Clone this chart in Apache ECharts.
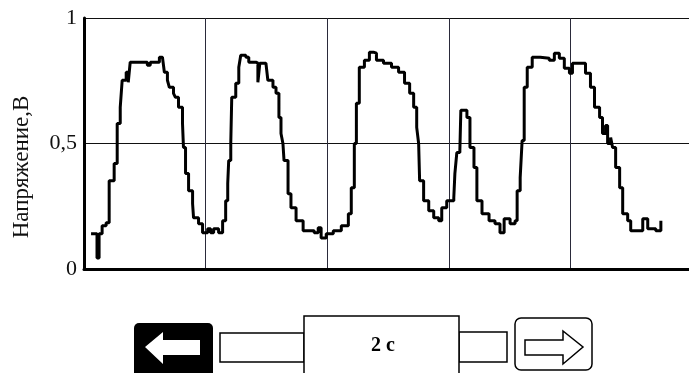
<!DOCTYPE html>
<html>
<head>
<meta charset="utf-8">
<script src="https://cdn.jsdelivr.net/npm/echarts@6/dist/echarts.min.js"></script>
<style>
html, body { margin: 0; padding: 0; background: #fff; }
#chart { width: 689px; height: 373px; }
</style>
</head>
<body>
<div id="chart"></div>
<script>
// время в делениях сетки (0..5), напряжение в вольтах
var time = [0.058,0.107,0.107,0.124,0.149,0.182,0.207,0.207,0.248,0.248,0.273,0.273,0.298,0.298,0.314,0.314,0.347,0.364,0.380,0.413,0.504,0.521,0.545,0.603,0.620,0.645,0.661,0.686,0.702,0.736,0.752,0.777,0.810,0.818,0.835,0.860,0.893,0.901,0.942,0.975,1.017,1.041,1.066,1.107,1.140,1.165,1.182,1.190,1.207,1.215,1.248,1.273,1.289,1.331,1.355,1.413,1.430,1.446,1.496,1.512,1.554,1.579,1.603,1.620,1.636,1.645,1.678,1.702,1.744,1.802,1.893,1.926,1.950,1.992,2.050,2.116,2.174,2.198,2.223,2.240,2.264,2.306,2.347,2.380,2.405,2.463,2.529,2.587,2.636,2.678,2.711,2.736,2.752,2.760,2.793,2.835,2.876,2.917,2.942,2.983,3.041,3.050,3.066,3.091,3.099,3.132,3.149,3.174,3.207,3.231,3.273,3.331,3.380,3.421,3.455,3.504,3.545,3.562,3.587,3.603,3.620,3.645,3.686,3.752,3.826,3.868,3.909,3.950,3.992,4.017,4.083,4.124,4.165,4.198,4.240,4.264,4.289,4.306,4.331,4.347,4.372,4.405,4.430,4.471,4.496,4.537,4.595,4.636,4.702,4.744];
var volt = [0.140,0.132,0.044,0.140,0.172,0.184,0.192,0.352,0.352,0.420,0.420,0.580,0.584,0.644,0.644,0.752,0.784,0.744,0.824,0.824,0.824,0.812,0.824,0.824,0.844,0.844,0.784,0.752,0.724,0.700,0.684,0.644,0.580,0.484,0.380,0.312,0.260,0.204,0.180,0.144,0.160,0.144,0.160,0.144,0.192,0.272,0.340,0.432,0.500,0.684,0.740,0.804,0.852,0.844,0.824,0.820,0.744,0.820,0.820,0.752,0.724,0.700,0.604,0.540,0.500,0.432,0.300,0.244,0.192,0.152,0.144,0.164,0.124,0.140,0.152,0.172,0.220,0.324,0.500,0.660,0.804,0.832,0.864,0.860,0.832,0.820,0.804,0.784,0.740,0.700,0.644,0.564,0.500,0.352,0.272,0.232,0.204,0.192,0.244,0.272,0.284,0.380,0.464,0.472,0.632,0.632,0.604,0.484,0.404,0.272,0.220,0.192,0.180,0.144,0.200,0.180,0.192,0.312,0.364,0.512,0.724,0.804,0.844,0.840,0.832,0.860,0.840,0.800,0.780,0.820,0.820,0.780,0.724,0.644,0.604,0.540,0.572,0.500,0.524,0.484,0.404,0.324,0.220,0.192,0.152,0.152,0.200,0.160,0.152,0.192];
var yTicks = [0, 0.5, 1];
var yName = 'Напряжение,В';
var sliderText = '2 c';

var points = [];
for (var i = 0; i < time.length; i++) {
    points.push([time[i], volt[i]]);
}

var myChart = echarts.init(document.getElementById('chart'));

var serif = '"Liberation Serif", "DejaVu Serif", serif';

option = {
    animation: false,
    backgroundColor: '#fff',
    grid: {
        left: 84,
        top: 18,
        right: -3,
        bottom: 104,
        containLabel: false,
        outerBoundsMode: 'none'
    },
    xAxis: {
        type: 'value',
        min: 0,
        max: 5,
        interval: 1,
        axisLine: { show: true, lineStyle: { color: '#000', width: 3 } },
        axisTick: { show: false },
        axisLabel: { show: false },
        splitLine: { show: true, lineStyle: { color: '#2a2a3a', width: 1 } }
    },
    yAxis: {
        type: 'value',
        min: 0,
        max: 1,
        interval: 0.5,
        axisLine: { show: true, lineStyle: { color: '#000', width: 3 } },
        axisTick: { show: false },
        axisLabel: {
            fontFamily: serif,
            fontSize: 22,
            color: '#111',
            margin: 7,
            formatter: function (v) {
                if (yTicks.indexOf(v) < 0) return '';
                return String(v).replace('.', ',');
            }
        },
        splitLine: { show: true, lineStyle: { color: '#111', width: 1 } }
    },
    series: [{
        type: 'line',
        data: points,
        step: 'end',
        showSymbol: false,
        lineStyle: { color: '#000', width: 3 },
        z: 5
    }],
    graphic: [
        // подпись оси Y (сдвинута ниже центра, как в оригинале)
        { type: 'text', x: 22, y: 167, rotation: Math.PI / 2, style: { text: yName, font: '23px ' + serif, fill: '#111', align: 'center', verticalAlign: 'middle' } },
        // левая кнопка
        { type: 'rect', shape: { x: 134, y: 323, width: 79, height: 54, r: 5 }, style: { fill: '#000' } },
        { type: 'polygon', shape: { points: [[145, 347], [163, 332], [163, 340], [200, 340], [200, 355], [163, 355], [163, 364]] }, style: { fill: '#fff' } },
        // полоса прокрутки
        { type: 'rect', shape: { x: 220, y: 333, width: 84, height: 29 }, style: { fill: '#fff', stroke: '#000', lineWidth: 1.5 } },
        { type: 'rect', shape: { x: 459, y: 332, width: 48, height: 30 }, style: { fill: '#fff', stroke: '#000', lineWidth: 1.5 } },
        { type: 'rect', shape: { x: 304, y: 316, width: 155, height: 62 }, style: { fill: '#fff', stroke: '#000', lineWidth: 1.5 } },
        { type: 'text', x: 383, y: 346, style: { text: sliderText, font: 'bold 20px ' + serif, fill: '#000', align: 'center', verticalAlign: 'middle' } },
        // правая кнопка
        { type: 'rect', shape: { x: 515, y: 318, width: 77, height: 52, r: 6 }, style: { fill: '#fff', stroke: '#000', lineWidth: 1.5 } },
        { type: 'polygon', shape: { points: [[525, 340], [563, 340], [563, 331], [583, 347], [563, 364], [563, 355], [525, 355]] }, style: { fill: '#fff', stroke: '#000', lineWidth: 1.5 } }
    ]
};

myChart.setOption(option);
</script>
</body>
</html>
